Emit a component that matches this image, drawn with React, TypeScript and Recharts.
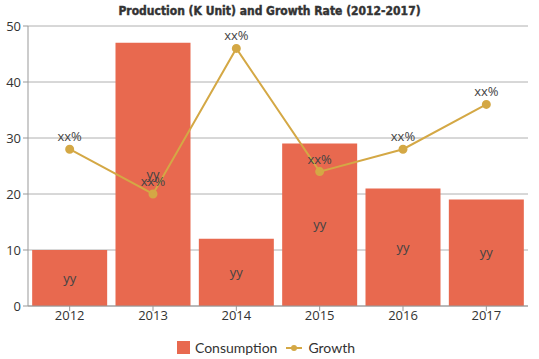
import {
  ComposedChart,
  Bar,
  Line,
  XAxis,
  YAxis,
  CartesianGrid,
  Legend,
  LabelList,
} from "recharts";

const years = ["2012", "2013", "2014", "2015", "2016", "2017"];
const consumption = [10, 47, 12, 29, 21, 19];
const growth = [28, 20, 46, 24, 28, 36];
const yTicks = [0, 10, 20, 30, 40, 50];

const data = years.map((year, i) => ({
  year,
  Consumption: consumption[i],
  Growth: growth[i],
}));

const BAR_COLOR = "#E8694F";
const LINE_COLOR = "#D4A845";

const LegendContent = () => (
  <div
    style={{
      display: "flex",
      justifyContent: "center",
      alignItems: "center",
      gap: 9,
      fontFamily: "Lato, sans-serif",
      fontSize: 14,
      color: "#333",
      paddingLeft: 4,
    }}
  >
    <span style={{ display: "flex", alignItems: "center", gap: 5 }}>
      <svg width={13} height={13}>
        <rect width={13} height={13} fill={BAR_COLOR} />
      </svg>
      Consumption
    </span>
    <span style={{ display: "flex", alignItems: "center", gap: 6 }}>
      <svg width={16} height={10}>
        <line x1={0} y1={5} x2={16} y2={5} stroke={LINE_COLOR} strokeWidth={2} />
        <circle cx={8} cy={5} r={3} fill={LINE_COLOR} />
      </svg>
      Growth
    </span>
  </div>
);

export default function App() {
  return (
    <div style={{ position: "absolute", left: 0, top: 0, width: 539, height: 359, background: "#fff" }}>
      <div
        style={{
          position: "absolute",
          top: 4,
          left: 0,
          width: 539,
          textAlign: "center",
          fontFamily: "'DejaVu Sans Condensed', 'DejaVu Sans', sans-serif",
          fontWeight: "bold",
          fontSize: 12,
          color: "#333",
          WebkitTextStroke: "0.4px #333",
        }}
      >
        Production (K Unit) and Growth Rate (2012-2017)
      </div>
      <ComposedChart
        width={539}
        height={359}
        data={data}
        margin={{ top: 26, right: 11, bottom: 0, left: 0 }}
        barCategoryGap="5%"
      >
        <CartesianGrid vertical={false} stroke="#b0b0b0" />
        <XAxis
          dataKey="year"
          stroke="#999"
          tick={{ fontSize: 13, fill: "#333", fontFamily: "'Open Sans', sans-serif", dy: -2 }}
          tickSize={5}
          height={33}
        />
        <YAxis
          domain={[0, 50]}
          ticks={yTicks}
          stroke="#999"
          width={28}
          tickSize={5}
          tick={{ fontSize: 13, fill: "#333", fontFamily: "'Open Sans', sans-serif" }}
        />
        <Legend verticalAlign="bottom" height={20} content={<LegendContent />} />
        <Bar dataKey="Consumption" fill={BAR_COLOR} isAnimationActive={false}>
          <LabelList
            dataKey="Consumption"
            position="center"
            formatter={() => "yy"}
            style={{ fontSize: 13, fill: "#444", fontFamily: "'Open Sans', sans-serif" }}
          />
        </Bar>
        <Line
          dataKey="Growth"
          stroke={LINE_COLOR}
          strokeWidth={2}
          dot={{ r: 3.5, fill: LINE_COLOR, stroke: LINE_COLOR }}
          isAnimationActive={false}
        >
          <LabelList
            dataKey="Growth"
            position="top"
            offset={8}
            formatter={() => "xx%"}
            style={{ fontSize: 13, fill: "#444", fontFamily: "'Open Sans', sans-serif" }}
          />
        </Line>
      </ComposedChart>
    </div>
  );
}
